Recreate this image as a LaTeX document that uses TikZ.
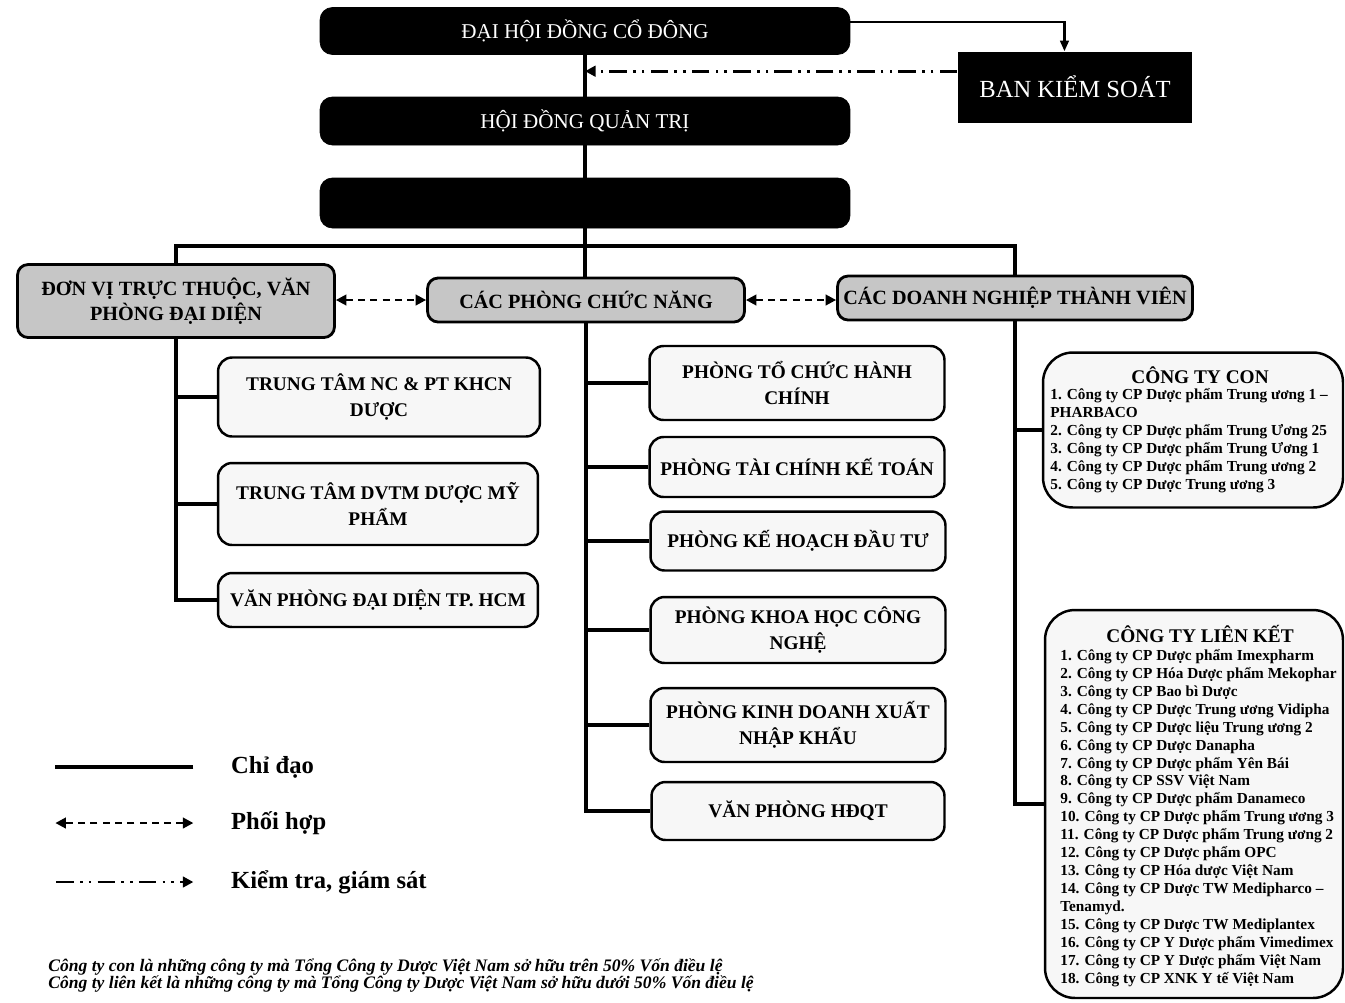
\documentclass[tikz,border=0pt]{standalone}
\usepackage{fontspec}
\setmainfont{Liberation Serif}
\usetikzlibrary{arrows.meta,calc}

\tikzset{
  topbox/.style={fill=black, draw=black, rounded corners=7pt, text=white,
    minimum width=10.6cm, font=\fontsize{12}{14}\selectfont},
  groupbox/.style={draw=black, line width=1.6pt, fill=gray!45, rounded corners=6pt,
    inner xsep=2pt, align=center, font=\bfseries\fontsize{11.5}{14}\selectfont},
  unitbox/.style={draw=black, line width=1.4pt, fill=gray!6, rounded corners=8pt,
    align=center, font=\bfseries\fontsize{11}{15}\selectfont},
  listbox/.style={draw=black, line width=1.4pt, fill=gray!6, rounded corners=17pt},
  listhead/.style={anchor=base, font=\bfseries\fontsize{11}{13}\selectfont},
  listtext/.style={anchor=north west, align=left, inner sep=0pt,
    font=\bfseries\fontsize{8.7}{10.2}\selectfont},
  legendtext/.style={anchor=west, font=\bfseries\fontsize{14}{16}\selectfont},
  chidao/.style={line width=2.4pt},
  phoihop/.style={line width=1.4pt, dash pattern=on 4pt off 3pt,
    {Triangle[length=6pt,width=6pt]}-{Triangle[length=6pt,width=6pt]}},
  giamsat/.style={line width=1.6pt,
    dash pattern=on 10pt off 3.5pt on 1.5pt off 3.5pt on 1.5pt off 3.5pt,
    -{Triangle[length=6pt,width=6pt]}},
}

\begin{document}
\begin{tikzpicture}[x=0.02cm, y=-0.02cm]
  \useasboundingbox (0,0) rectangle (1345,1002);

  % lanh dao
  \node[topbox, minimum height=0.94cm] (dhdcd) at (585,31) {ĐẠI HỘI ĐỒNG CỔ ĐÔNG};
  \node[topbox, minimum height=0.96cm] (hdqt) at (585,121) {HỘI ĐỒNG QUẢN TRỊ};
  \node[topbox, minimum height=1cm] (tgd) at (585,203) {};
  \node[fill=black, text=white, minimum width=4.7cm, minimum height=1.42cm,
    font=\fontsize{14}{16}\selectfont] (bks) at (1075,87) {BAN KIỂM SOÁT};

  % ba khoi
  \node[groupbox, minimum width=6.34cm, minimum height=1.46cm] (dvtt) at (176,301)
    {ĐƠN VỊ TRỰC THUỘC, VĂN\\PHÒNG ĐẠI DIỆN};
  \node[groupbox, minimum width=6.34cm, minimum height=0.88cm] (pcn) at (586,300)
    {CÁC PHÒNG CHỨC NĂNG};
  \node[groupbox, minimum width=7.1cm, minimum height=0.88cm] (dntv) at (1015,298)
    {CÁC DOANH NGHIỆP THÀNH VIÊN};

  % don vi truc thuoc
  \node[unitbox, minimum width=6.44cm, minimum height=1.58cm] (nc) at (379,397)
    {TRUNG TÂM NC \& PT KHCN\\DƯỢC};
  \node[unitbox, minimum width=6.4cm, minimum height=1.64cm] (dvtm) at (378,504)
    {TRUNG TÂM DVTM DƯỢC MỸ\\PHẨM};
  \node[unitbox, minimum width=6.4cm, minimum height=1.08cm] (vpdd) at (378,600)
    {VĂN PHÒNG ĐẠI DIỆN TP. HCM};

  % phong chuc nang
  \node[unitbox, minimum width=5.9cm, minimum height=1.48cm] (tchc) at (797,383)
    {PHÒNG TỔ CHỨC HÀNH\\CHÍNH};
  \node[unitbox, minimum width=5.9cm, minimum height=1.2cm] (tckt) at (797,467)
    {PHÒNG TÀI CHÍNH KẾ TOÁN};
  \node[unitbox, minimum width=5.9cm, minimum height=1.18cm] (khdt) at (798,541)
    {PHÒNG KẾ HOẠCH ĐẦU TƯ};
  \node[unitbox, minimum width=5.9cm, minimum height=1.32cm] (khcn) at (798,630)
    {PHÒNG KHOA HỌC CÔNG\\NGHỆ};
  \node[unitbox, minimum width=5.9cm, minimum height=1.48cm] (kdxnk) at (798,725)
    {PHÒNG KINH DOANH XUẤT\\NHẬP KHẨU};
  \node[unitbox, minimum width=5.86cm, minimum height=1.16cm] (vphdqt) at (798,811)
    {VĂN PHÒNG HĐQT};

  % doanh nghiep thanh vien
  \node[listbox, minimum width=6cm, minimum height=3.1cm] (con) at (1193,430) {};
  \node[listhead] (conhead) at (1200,383) {CÔNG TY CON};
  \node[listtext] (conlist) at (1050,388)
    {1. Công ty CP Dược phẩm Trung ương 1 --\\PHARBACO\\
     2. Công ty CP Dược phẩm Trung Ương 25\\
     3. Công ty CP Dược phẩm Trung Ương 1\\
     4. Công ty CP Dược phẩm Trung ương 2\\
     5. Công ty CP Dược Trung ương 3};
  \node[listbox, minimum width=5.96cm, minimum height=7.76cm] (lk) at (1194,804) {};
  \node[listhead] (lkhead) at (1200,642) {CÔNG TY LIÊN KẾT};
  \node[listtext] (lklist) at (1060,649)
    {1. Công ty CP Dược phẩm Imexpharm\\
     2. Công ty CP Hóa Dược phẩm Mekophar\\
     3. Công ty CP Bao bì Dược\\
     4. Công ty CP Dược Trung ương Vidipha\\
     5. Công ty CP Dược liệu Trung ương 2\\
     6. Công ty CP Dược Danapha\\
     7. Công ty CP Dược phẩm Yên Bái\\
     8. Công ty CP SSV Việt Nam\\
     9. Công ty CP Dược phẩm Danameco\\
     10. Công ty CP Dược phẩm Trung ương 3\\
     11. Công ty CP Dược phẩm Trung ương 2\\
     12. Công ty CP Dược phẩm OPC\\
     13. Công ty CP Hóa dược Việt Nam\\
     14. Công ty CP Dược TW Medipharco --\\Tenamyd.\\
     15. Công ty CP Dược TW Mediplantex\\
     16. Công ty CP Y Dược phẩm Vimedimex\\
     17. Công ty CP Y Dược phẩm Việt Nam\\
     18. Công ty CP XNK Y tế Việt Nam};

  % chi dao
  \draw[chidao] (dhdcd) -- (hdqt);
  \draw[chidao] (hdqt) -- (tgd);
  \coordinate (bus) at (585,246);
  \draw[chidao] (tgd.south) -- (tgd.south |- pcn.north);
  \draw[chidao] (dvtt.north) -- (dvtt.north |- bus) -- (dntv.north |- bus) -- (dntv.north);
  \foreach \n in {nc,dvtm,vpdd}
    \draw[chidao] (dvtt.south) |- (\n.west);
  \foreach \n in {tchc,tckt,khdt,khcn,kdxnk,vphdqt}
    \draw[chidao] (pcn.south) |- (\n.west);
  \foreach \n in {con,lk}
    \draw[chidao] (dntv.south) |- (\n.west);

  % phoi hop, giam sat
  \draw[phoihop] (dvtt.east |- pcn.west) -- (pcn.west);
  \draw[phoihop] (pcn.east) -- (dntv.west |- pcn.east);
  \draw[line width=1.2pt, -{Triangle[length=6pt,width=5pt]}]
    ([yshift=5pt]dhdcd.east) -| ([xshift=-6pt]bks.north);
  \coordinate (ks) at ([yshift=9pt]bks.west);
  \draw[giamsat] (ks) -- (ks -| dhdcd.south);

  % chu thich
  \node[legendtext] (lg1) at (225,767) {Chỉ đạo};
  \node[legendtext] (lg2) at (225,823) {Phối hợp};
  \node[legendtext] (lg3) at (225,882) {Kiểm tra, giám sát};
  \draw[chidao] ([xshift=-18pt]lg1.west) -- ++(-138,0);
  \draw[phoihop] ([xshift=-18pt]lg2.west) -- ++(-138,0);
  \draw[giamsat] ([xshift=-96pt]lg3.west) -- ([xshift=-18pt]lg3.west);

  \node[anchor=north west, align=left, inner sep=0pt,
    font=\bfseries\itshape\fontsize{10}{10}\selectfont] (ghichu) at (48,958)
    {Công ty con là những công ty mà Tổng Công ty Dược Việt Nam sở hữu trên 50\% Vốn điều lệ\\
     Công ty liên kết là những công ty mà Tổng Công ty Dược Việt Nam sở hữu dưới 50\% Vốn điều lệ};
\end{tikzpicture}
\end{document}
